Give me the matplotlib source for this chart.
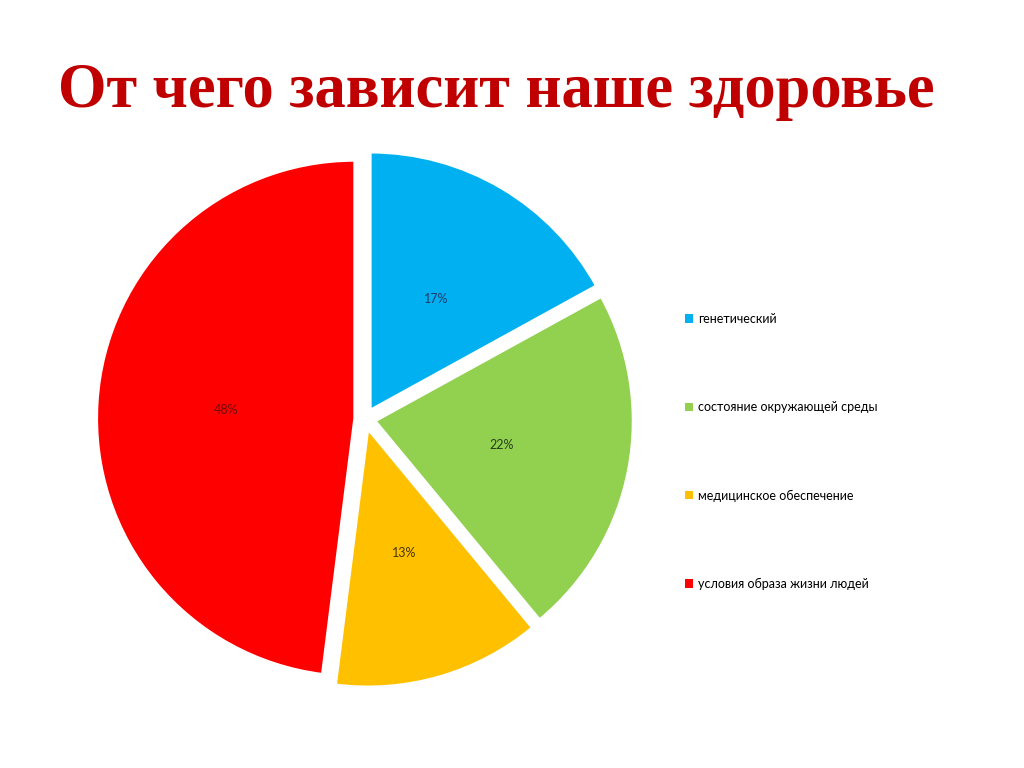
import matplotlib
matplotlib.use("Agg")
import matplotlib.pyplot as plt
from matplotlib.patches import Patch

title = "От чего зависит наше здоровье"
categories = ["генетический", "состояние окружающей среды",
              "медицинское обеспечение", "условия образа жизни людей"]
values = [17, 22, 13, 48]
colors = ["#00B0F0", "#92D050", "#FFC000", "#FF0000"]
label_colors = ["#1F3A6E", "#25401A", "#4A3500", "#6E0A0A"]

fig = plt.figure(figsize=(10.24, 7.68), dpi=100)
fig.patch.set_facecolor("white")

R = 258.0
cx, cy = 365.0, 419.0
half = 1.1 * R
ax = fig.add_axes([(cx - half) / 1024, (768 - cy - half) / 768, 2 * half / 1024, 2 * half / 768])
ax.set_xlim(-1.1, 1.1)
ax.set_ylim(-1.1, 1.1)
ax.set_aspect("equal")
ax.axis("off")

wedges, texts, autotexts = ax.pie(
    values, colors=colors, startangle=90, counterclock=False,
    explode=[0.04] * len(values), radius=1.0,
    autopct=lambda p: f"{p:.0f}%", pctdistance=0.5,
    wedgeprops=dict(edgecolor="white", linewidth=2),
    textprops=dict(fontsize=9, family=["Lato", "DejaVu Sans"]),
)
for t, c in zip(autotexts, label_colors):
    t.set_color(c)
ax.set_xlim(-1.1, 1.1)
ax.set_ylim(-1.1, 1.1)

fig.text(58 / 1024, 1 - 92 / 768, title, fontsize=45, fontweight="bold",
         family=["Liberation Serif", "DejaVu Serif"], color="#C00000",
         ha="left", va="center")

handles = [Patch(facecolor=c, edgecolor="none") for c in colors]
leg = fig.legend(handles, categories, loc="upper left",
                 bbox_to_anchor=(685 / 1024, 1 - 313 / 768),
                 frameon=False, labelspacing=6.1,
                 handlelength=0.65, handleheight=0.65, handletextpad=0.4,
                 borderaxespad=0, borderpad=0,
                 prop=dict(family=["Lato", "DejaVu Sans"], size=9))

fig.savefig("out.png", dpi=100, facecolor="white")
